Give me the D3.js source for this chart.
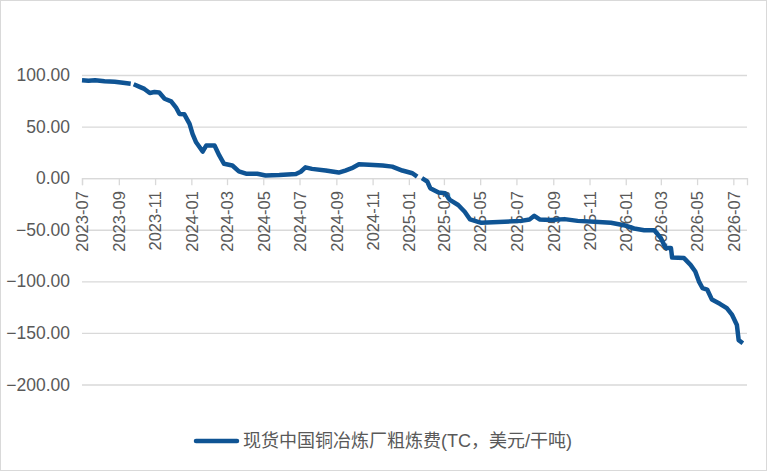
<!DOCTYPE html>
<html>
<head>
<meta charset="utf-8">
<script src="https://cdn.jsdelivr.net/npm/d3@7"></script>
<style>
  body { margin: 0; background: #fff; }
  svg { display: block; font-family: "Liberation Sans", Arial, "Noto Sans CJK SC", sans-serif; }
</style>
</head>
<body>
<svg id="chart" width="768" height="472"></svg>
<script>
// Series: spot China copper smelter TC (USD/dmt); null marks a break in the line
const dates = [
  "2023-07-01", "2023-07-12", "2023-07-23", "2023-08-08", "2023-08-25", "2023-09-08", "2023-09-21", "2023-09-24",
  "2023-09-26", "2023-10-06", "2023-10-14", "2023-10-23", "2023-10-31", "2023-11-08", "2023-11-17",
  "2023-11-28", "2023-12-06", "2023-12-12", "2023-12-20", "2023-12-29", "2024-01-03", "2024-01-09",
  "2024-01-15", "2024-01-20", "2024-01-26", "2024-02-09", "2024-02-17", "2024-02-25", "2024-03-10",
  "2024-03-21", "2024-04-02", "2024-04-21", "2024-05-05", "2024-05-28", "2024-06-25", "2024-07-03",
  "2024-07-11", "2024-07-22", "2024-08-14", "2024-09-05", "2024-09-16", "2024-09-27", "2024-10-09",
  "2024-10-26", "2024-11-18", "2024-12-04", "2024-12-21", "2025-01-07", "2025-01-15", "2025-01-19",
  "2025-01-23", "2025-02-01", "2025-02-06", "2025-02-20", "2025-03-03", "2025-03-11", "2025-03-25",
  "2025-04-05", "2025-04-14", "2025-05-03", "2025-06-11", "2025-07-09", "2025-07-23", "2025-07-31",
  "2025-08-09", "2025-08-28", "2025-09-20", "2025-10-12", "2025-11-09", "2025-12-07", "2025-12-29",
  "2026-01-15", "2026-02-01", "2026-02-18", "2026-03-01", "2026-03-09", "2026-03-18", "2026-03-20",
  "2026-04-09", "2026-04-20", "2026-04-28", "2026-05-04", "2026-05-10", "2026-05-18", "2026-05-26",
  "2026-06-09", "2026-06-20", "2026-06-29", "2026-07-07", "2026-07-10", "2026-07-17"
];
const tcValues = [
  95, 94.5, 95, 94, 93.5, 92.5, 91.5, null,
  91, 88.5, 86.5, 82.6, 83.5, 83, 77,
  74.5, 68.7, 62.3, 62, 52.6, 43, 34.8,
  30, 25.8, 31.6, 31.6, 22, 13.9, 12.3,
  6.5, 4.3, 4.3, 2.6, 3, 4, 6.2,
  10.5, 9, 7.4, 5.4, 7.4, 9.7, 13.5,
  13, 12.2, 11.2, 7.4, 4.8, 1.5, null,
  0, -3.2, -9.7, -14, -14.6, -21, -26,
  -32.6, -40, -43.3, -42.3, -41.4, -40, -36.5,
  -40, -40.6, -39.7, -41.4, -42.3, -43.3, -45.6,
  -48.8, -50.5, -50.5, -58, -67.7, -67.7, -77,
  -77.5, -84, -90.5, -100, -106.5, -108, -117.7,
  -122, -126, -132.6, -142.3, -157, -160
];
const yTicks = [100, 50, 0, -50, -100, -150, -200];
const xTickLabels = [
  "2023-07", "2023-09", "2023-11", "2024-01", "2024-03", "2024-05", "2024-07", "2024-09", "2024-11",
  "2025-01", "2025-03", "2025-05", "2025-07", "2025-09", "2025-11", "2026-01", "2026-03", "2026-05", "2026-07"
];
const seriesName = "现货中国铜冶炼厂粗炼费(TC，美元/干吨)";

const parse = d3.timeParse("%Y-%m-%d");
const parseMonth = d3.timeParse("%Y-%m");
const data = dates.map((d, i) => ({ date: parse(d), value: tcValues[i] }));

const svg = d3.select("#chart");
const width = 768, height = 472;
const margin = { left: 82, right: 21 };

// Outer frame
svg.append("rect")
  .attr("x", 0.5).attr("y", 0.5)
  .attr("width", width - 2).attr("height", height - 2)
  .attr("fill", "#fff")
  .attr("stroke", "#d9d9d9");

const x = d3.scaleTime()
  .domain([parseMonth("2023-07"), parse("2026-07-24")])
  .range([margin.left, width - margin.right]);

const y = d3.scaleLinear()
  .domain([-200, 100])
  .range([384.5, 75]);

// Gridlines + y labels
const yAxis = svg.append("g")
  .call(d3.axisLeft(y).tickValues(yTicks).tickSize(0).tickFormat(d3.format(".2f")))
  .attr("transform", `translate(${margin.left},0)`);
yAxis.select(".domain").remove();
yAxis.selectAll(".tick line")
  .attr("x2", width - margin.right - margin.left)
  .attr("stroke", "#d9d9d9")
  .attr("stroke-width", 1.3);
yAxis.selectAll(".tick text")
  .attr("x", -12)
  .attr("fill", "#595959")
  .style("font-size", "17.5px");

// X axis sitting on the zero line
const xAxis = svg.append("g")
  .attr("transform", `translate(0,${y(0)})`)
  .call(d3.axisBottom(x)
    .tickValues(xTickLabels.map(parseMonth))
    .tickSize(7)
    .tickFormat(d3.timeFormat("%Y-%m")));
xAxis.select(".domain").attr("stroke", "#d9d9d9").attr("stroke-width", 1.3);
xAxis.selectAll(".tick line").attr("stroke", "#d9d9d9").attr("stroke-width", 1.3);
xAxis.selectAll(".tick text")
  .attr("transform", "rotate(-90)")
  .attr("text-anchor", "end")
  .attr("x", -13)
  .attr("y", 0)
  .attr("dy", "0.35em")
  .attr("fill", "#595959")
  .style("font-size", "16.5px");

// Line
const line = d3.line()
  .defined(d => d.value !== null)
  .x(d => x(d.date))
  .y(d => y(d.value));

svg.append("path")
  .datum(data)
  .attr("fill", "none")
  .attr("stroke", "#0f5494")
  .attr("stroke-width", 4.5)
  .attr("stroke-linejoin", "round")
  .attr("d", line);

// Legend
const legend = svg.append("g").attr("transform", "translate(196,441)");
legend.append("line")
  .attr("x1", 0).attr("x2", 41)
  .attr("stroke", "#0f5494")
  .attr("stroke-width", 4.5)
  .attr("stroke-linecap", "round");
legend.append("text")
  .attr("x", 47)
  .attr("dy", "0.35em")
  .attr("fill", "#595959")
  .style("font-size", "18px")
  .text(seriesName);
</script>
</body>
</html>
